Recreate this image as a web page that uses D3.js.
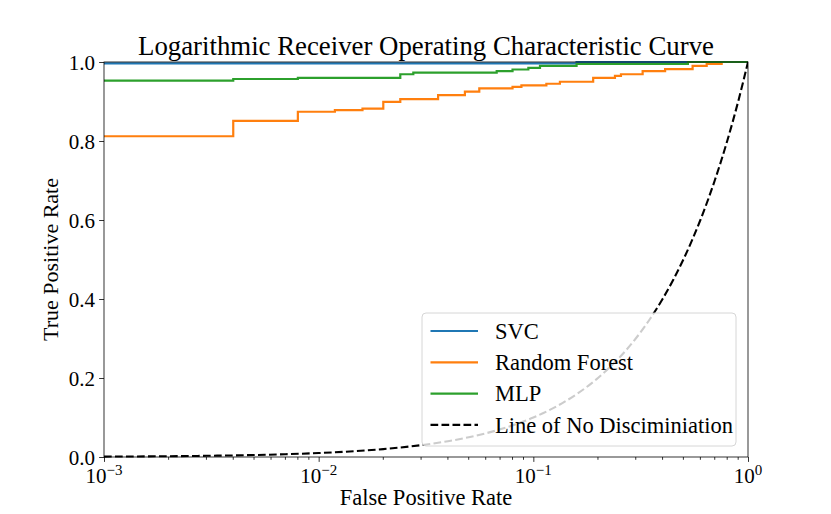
<!DOCTYPE html>
<html>
<head>
<meta charset="utf-8">
<script src="https://cdn.jsdelivr.net/npm/d3@7"></script>
<style>
  body { margin: 0; background: #fff; }
  svg text { font-family: "Liberation Serif", "DejaVu Serif", serif; fill: #000; }
</style>
</head>
<body>
<svg id="chart" width="831" height="514"></svg>
<script>
// ROC points (step after)
const svcFpr = [0.001, 0.159, 1.0];
const svcTpr = [0.9965, 1.0, 1.0];

const rfFpr = [0.001, 0.004, 0.008, 0.0119, 0.016, 0.020, 0.024, 0.036, 0.048, 0.056, 0.080, 0.088,
               0.115, 0.133, 0.190, 0.240, 0.256, 0.323, 0.411, 0.552, 0.642, 0.754, 1.0];
const rfTpr = [0.812, 0.851, 0.874, 0.878, 0.882, 0.899, 0.906, 0.916, 0.925, 0.933, 0.937, 0.941,
               0.945, 0.950, 0.960, 0.965, 0.969, 0.977, 0.982, 0.990, 0.995, 1.0, 1.0];

const mlpFpr = [0.001, 0.004, 0.008, 0.024, 0.0276, 0.0675, 0.080, 0.0948, 0.1074, 0.159, 0.525, 1.0];
const mlpTpr = [0.953, 0.957, 0.960, 0.969, 0.973, 0.977, 0.981, 0.985, 0.990, 0.995, 1.0, 1.0];

// line of no discrimination (tpr == fpr)
const chanceFpr = [0.001, 0.002, 0.003, 0.005, 0.007, 0.01, 0.015, 0.02, 0.03, 0.04, 0.05, 0.07, 0.1,
                   0.13, 0.16, 0.2, 0.25, 0.3, 0.35, 0.4, 0.45, 0.5, 0.6, 0.7, 0.8, 0.9, 1.0];
const chanceTpr = [0.001, 0.002, 0.003, 0.005, 0.007, 0.01, 0.015, 0.02, 0.03, 0.04, 0.05, 0.07, 0.1,
                   0.13, 0.16, 0.2, 0.25, 0.3, 0.35, 0.4, 0.45, 0.5, 0.6, 0.7, 0.8, 0.9, 1.0];

const seriesNames = ["SVC", "Random Forest", "MLP", "Line of No Disciminiation"];
const seriesColors = ["#1f77b4", "#ff7f0e", "#2ca02c", "#000000"];

const xTicks = [1e-3, 1e-2, 1e-1, 1];
const xTickExp = ["\u22123", "\u22122", "\u22121", "0"];
const yTicks = [0, 0.2, 0.4, 0.6, 0.8, 1.0];

var svg = d3.select("#chart");
const margin = {top: 62, right: 83, bottom: 57, left: 104};
const width  = +svg.attr("width") - margin.left - margin.right;
const height = +svg.attr("height") - margin.top - margin.bottom;

var x = d3.scaleLog().domain([1e-3, 1]).range([0, width]);
var y = d3.scaleLinear().domain([0, 1]).range([height, 0]);

var g = svg.append("g")
    .attr("transform", "translate(" + margin.left + "," + margin.top + ")");

g.append("clipPath").attr("id", "clip")
  .append("rect").attr("width", width).attr("height", height + 2).attr("y", -1);

var plot = g.append("g").attr("clip-path", "url(#clip)");

var step = d3.line()
    .x(d => x(d[0])).y(d => y(d[1]))
    .curve(d3.curveStepAfter);

var smooth = d3.line()
    .x(d => x(d[0])).y(d => y(d[1]))
    .curve(d3.curveMonotoneX);

const curves = [
  [svcFpr, svcTpr],
  [rfFpr, rfTpr],
  [mlpFpr, mlpTpr]
];

curves.forEach(function(c, i){
  plot.append("path")
    .datum(d3.zip(c[0], c[1]))
    .attr("fill", "none")
    .attr("stroke", seriesColors[i])
    .attr("stroke-width", 2.2)
    .attr("d", step);
});

plot.append("path")
  .datum(d3.zip(chanceFpr, chanceTpr))
  .attr("fill", "none")
  .attr("stroke", "#000")
  .attr("stroke-width", 2.1)
  .attr("stroke-dasharray", "7.7,3.3")
  .attr("d", smooth);

// axes
var xAxis = g.append("g")
  .attr("transform", "translate(0," + height + ")")
  .call(d3.axisBottom(x).tickValues(xTicks).tickSize(4.9).tickFormat(""));

var minor = [];
xTicks.slice(0, 3).forEach(function(t){
  for (var k = 2; k <= 9; k++) minor.push(t * k);
});
xAxis.selectAll(".minor").data(minor).enter().append("line")
  .attr("class", "minor")
  .attr("x1", d => x(d)).attr("x2", d => x(d))
  .attr("y1", 0).attr("y2", 2.8)
  .attr("stroke", "#000").attr("stroke-width", 0.8);

xTicks.forEach(function(t, i){
  var lab = xAxis.append("text")
    .attr("x", x(t)).attr("y", 26)
    .attr("text-anchor", "middle")
    .style("font-size", "21px");
  lab.append("tspan").text("10");
  lab.append("tspan").attr("dy", -8).style("font-size", "15px").text(xTickExp[i]);
});

var yAxis = g.append("g")
  .call(d3.axisLeft(y).tickValues(yTicks).tickSize(4.9).tickPadding(4).tickFormat(d3.format(".1f")));
yAxis.selectAll("text").style("font-size", "21px").attr("dy", "0.35em")
  .style("font-family", "Liberation Serif, serif");

[xAxis, yAxis].forEach(function(a){
  a.select(".domain").remove();
  a.selectAll(".tick line").attr("stroke", "#000").attr("stroke-width", 0.8);
});

// frame
g.append("rect")
  .attr("width", width).attr("height", height)
  .attr("fill", "none").attr("stroke", "#000").attr("stroke-width", 0.8);

// labels
svg.append("text")
  .attr("x", margin.left + width / 2).attr("y", 55)
  .attr("text-anchor", "middle")
  .style("font-size", "26.8px")
  .text("Logarithmic Receiver Operating Characteristic Curve");

svg.append("text")
  .attr("x", margin.left + width / 2).attr("y", 505)
  .attr("text-anchor", "middle")
  .style("font-size", "22.5px")
  .text("False Positive Rate");

svg.append("text")
  .attr("transform", "translate(58," + (margin.top + height / 2) + ") rotate(-90)")
  .attr("text-anchor", "middle")
  .style("font-size", "22px")
  .text("True Positive Rate");

// legend
var leg = g.append("g").attr("transform", "translate(318,251)");
leg.append("rect")
  .attr("width", 314).attr("height", 133).attr("rx", 4)
  .attr("fill", "#fff").attr("fill-opacity", 0.8)
  .attr("stroke", "#ccc").attr("stroke-width", 0.8);

seriesNames.forEach(function(name, i){
  var row = leg.append("g").attr("transform", "translate(0," + (18 + i * 31.3) + ")");
  row.append("line")
    .attr("x1", 8.5).attr("x2", 56)
    .attr("stroke", seriesColors[i]).attr("stroke-width", 2.2)
    .attr("stroke-dasharray", i === 3 ? "7.7,3.3" : null);
  row.append("text")
    .attr("x", 73).attr("dy", "0.35em")
    .style("font-size", "22.5px")
    .text(name);
});
</script>
</body>
</html>
